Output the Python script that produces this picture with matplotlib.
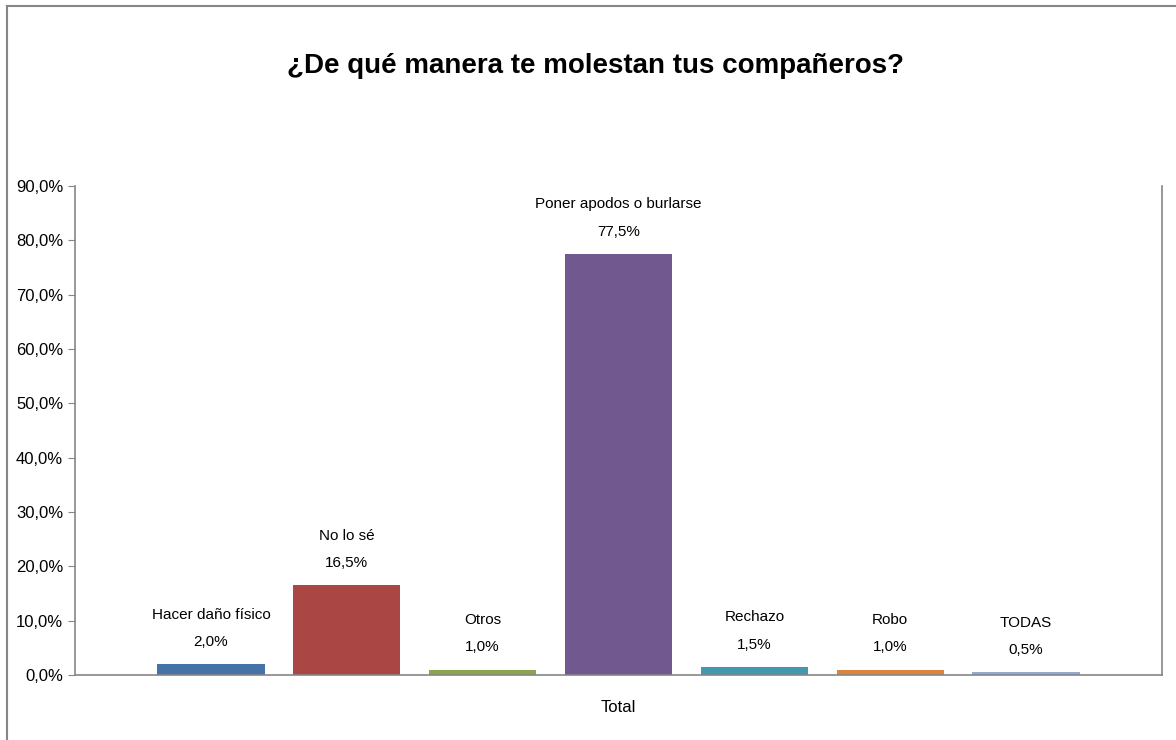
import matplotlib
matplotlib.use("Agg")
import matplotlib.pyplot as plt
from matplotlib.lines import Line2D
from matplotlib.ticker import FuncFormatter

categorias = ["Hacer daño físico", "No lo sé", "Otros", "Poner apodos o burlarse",
              "Rechazo", "Robo", "TODAS"]
valores = [2.0, 16.5, 1.0, 77.5, 1.5, 1.0, 0.5]
colores = ["#4572A7", "#AA4643", "#89A54E", "#71588F", "#4198AF", "#DB843D", "#93A9CF"]
yticks = [0, 10, 20, 30, 40, 50, 60, 70, 80, 90]

plt.rcParams['font.family'] = ['Liberation Sans Narrow', 'Liberation Sans', 'DejaVu Sans']

fig = plt.figure(figsize=(11.76, 7.4), dpi=100)
ax = fig.add_axes([75/1176, 1 - 675/740, (1162 - 75)/1176, (675 - 186)/740])

x = list(range(1, len(valores) + 1))
ax.bar(x, valores, width=0.79, color=colores)

for xi, v, c in zip(x, valores, categorias):
    ax.annotate(c + "\n" + ("%.1f%%" % v).replace(".", ","), (xi, v),
                xytext=(0, 11), textcoords="offset points", ha="center", va="bottom",
                fontsize=11, linespacing=2.2)

ax.set_xlim(0, 8)
ax.set_ylim(0, 90)
ax.set_yticks(yticks)
ax.yaxis.set_major_formatter(FuncFormatter(lambda v, p: ("%.1f%%" % v).replace(".", ",")))
ax.tick_params(axis="y", labelsize=12, length=5, color="#868686", direction="out")
ax.set_xticks([])
ax.set_xlabel("Total", fontsize=12, labelpad=18)

ax.spines["top"].set_visible(False)
for s in ["left", "bottom", "right"]:
    ax.spines[s].set_color("#868686")
    ax.spines[s].set_linewidth(1.2)

fig.text(0.506, 0.911, "¿De qué manera te molestan tus compañeros?",
         ha="center", va="center", fontsize=20, fontweight="bold")

# marco exterior
fig.add_artist(Line2D([7/1176, 7/1176], [0, 1 - 6/740], color="#868686", lw=1.5))
fig.add_artist(Line2D([7/1176, 1], [1 - 6/740, 1 - 6/740], color="#868686", lw=1.5))

fig.savefig("out.png", dpi=100)
